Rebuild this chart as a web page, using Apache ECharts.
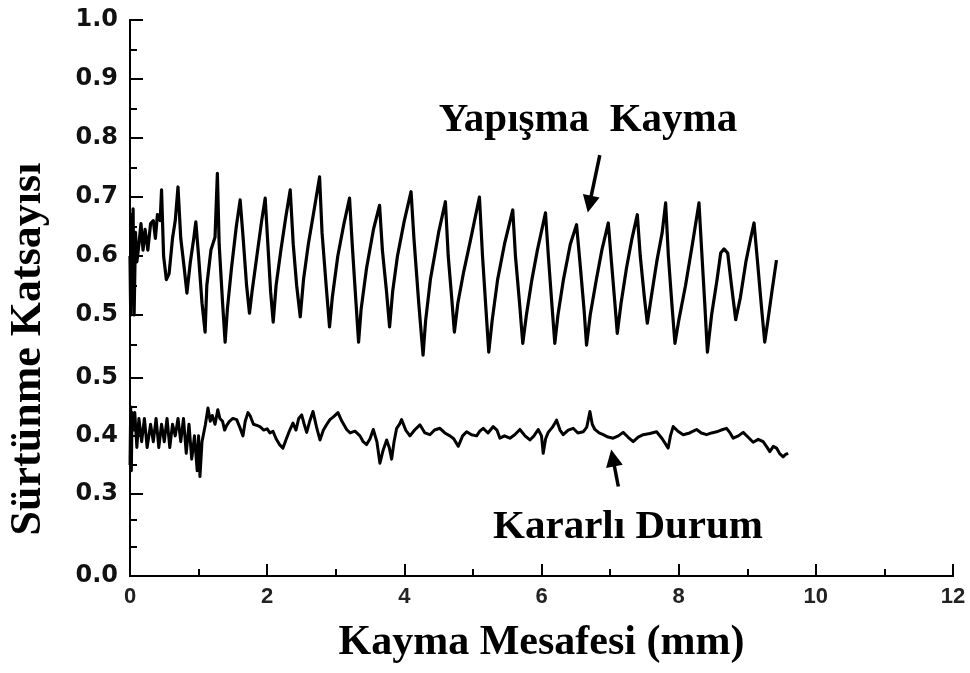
<!DOCTYPE html>
<html>
<head>
<meta charset="utf-8">
<script src="https://cdn.jsdelivr.net/npm/echarts@6/dist/echarts.min.js"></script>
<style>
  html, body { margin: 0; padding: 0; background: #fff; }
  #chart { width: 970px; height: 673px; }
</style>
</head>
<body>
<div id="chart"></div>
<script>
// Sliding distance (mm) and friction coefficient, stick-slip trace
const slipX = [
  0.00, 0.01, 0.02, 0.03, 0.045, 0.06, 0.08, 0.10, 0.13, 0.16, 0.19, 0.22, 0.26, 0.30, 0.34, 0.37, 0.40, 0.44,
  0.46, 0.49, 0.53, 0.57, 0.62, 0.66, 0.70, 0.74, 0.79, 0.83, 0.88, 0.93, 0.96, 1.00, 1.05, 1.095,
  1.12, 1.18, 1.24, 1.274, 1.30, 1.35, 1.387, 1.42, 1.48, 1.55, 1.606, 1.65, 1.70, 1.742,
  1.78, 1.85, 1.92, 1.971, 2.01, 2.05, 2.088, 2.13, 2.20, 2.27, 2.336, 2.38, 2.43, 2.482,
  2.53, 2.60, 2.68, 2.764, 2.80, 2.86, 2.909, 2.95, 3.03, 3.12, 3.201, 3.24, 3.29, 3.333,
  3.37, 3.45, 3.55, 3.639, 3.68, 3.74, 3.785, 3.83, 3.90, 4.00, 4.098, 4.14, 4.21, 4.273,
  4.31, 4.38, 4.50, 4.599, 4.64, 4.69, 4.73, 4.78, 4.86, 4.97, 5.095, 5.14, 5.19, 5.231,
  5.28, 5.36, 5.46, 5.581, 5.62, 5.68, 5.727, 5.78, 5.86, 5.94, 6.058, 6.10, 6.15, 6.194,
  6.24, 6.32, 6.42, 6.511, 6.56, 6.62, 6.657, 6.71, 6.80, 6.88, 6.974, 7.02, 7.07, 7.105,
  7.16, 7.24, 7.32, 7.397, 7.44, 7.50, 7.543, 7.60, 7.68, 7.76, 7.81, 7.85, 7.90, 7.946,
  8.00, 8.10, 8.20, 8.296, 8.34, 8.38, 8.419, 8.48, 8.56, 8.613, 8.66, 8.715, 8.77, 8.832,
  8.90, 8.98, 9.05, 9.099, 9.15, 9.21, 9.255, 9.30, 9.36, 9.426
];
const slipY = [
  0.60, 0.50, 0.67, 0.52, 0.68, 0.50, 0.64, 0.59, 0.62, 0.655, 0.61, 0.645, 0.61, 0.655, 0.66, 0.63, 0.67, 0.66,
  0.712, 0.60, 0.56, 0.57, 0.63, 0.66, 0.717, 0.63, 0.58, 0.537, 0.59, 0.63, 0.658, 0.60, 0.52, 0.471,
  0.55, 0.61, 0.632, 0.74, 0.62, 0.52, 0.454, 0.51, 0.58, 0.65, 0.695, 0.63, 0.55, 0.503,
  0.54, 0.60, 0.66, 0.698, 0.62, 0.54, 0.488, 0.55, 0.61, 0.665, 0.712, 0.62, 0.55, 0.497,
  0.56, 0.62, 0.675, 0.734, 0.64, 0.55, 0.48, 0.53, 0.60, 0.655, 0.698, 0.62, 0.53, 0.454,
  0.51, 0.58, 0.645, 0.686, 0.61, 0.54, 0.48, 0.54, 0.60, 0.66, 0.709, 0.63, 0.52, 0.432,
  0.49, 0.56, 0.64, 0.692, 0.60, 0.53, 0.471, 0.52, 0.57, 0.63, 0.70, 0.60, 0.51, 0.437,
  0.49, 0.56, 0.62, 0.678, 0.60, 0.52, 0.452, 0.50, 0.56, 0.61, 0.673, 0.60, 0.52, 0.452,
  0.50, 0.56, 0.62, 0.653, 0.59, 0.51, 0.449, 0.50, 0.56, 0.61, 0.656, 0.59, 0.52, 0.469,
  0.52, 0.58, 0.63, 0.67, 0.60, 0.53, 0.486, 0.53, 0.59, 0.64, 0.69, 0.60, 0.52, 0.452,
  0.49, 0.55, 0.62, 0.69, 0.60, 0.52, 0.437, 0.50, 0.56, 0.605, 0.612, 0.605, 0.55, 0.492,
  0.53, 0.59, 0.63, 0.656, 0.59, 0.51, 0.454, 0.49, 0.54, 0.593
];

// Steady-state trace
const steadyX = [
  0.00, 0.01, 0.02, 0.03, 0.05, 0.07, 0.10, 0.13, 0.17, 0.21, 0.25, 0.30, 0.34, 0.38, 0.42, 0.46,
  0.50, 0.54, 0.58, 0.62, 0.66, 0.70, 0.74, 0.78, 0.82, 0.86, 0.90, 0.94, 0.98, 1.00, 1.02, 1.05,
  1.10, 1.137, 1.17, 1.20, 1.24, 1.28, 1.31, 1.35, 1.38, 1.41, 1.45, 1.50, 1.555, 1.60, 1.647,
  1.68, 1.72, 1.75, 1.80, 1.85, 1.895, 1.95, 2.00, 2.04, 2.085, 2.13, 2.18, 2.23, 2.28, 2.33,
  2.376, 2.42, 2.46, 2.503, 2.54, 2.576, 2.62, 2.668, 2.72, 2.77, 2.82, 2.87, 2.915, 2.97,
  3.032, 3.09, 3.159, 3.21, 3.28, 3.353, 3.40, 3.45, 3.50, 3.547, 3.60, 3.644, 3.69, 3.742,
  3.78, 3.815, 3.85, 3.888, 3.93, 3.96, 4.02, 4.082, 4.15, 4.227, 4.30, 4.373, 4.44, 4.519,
  4.59, 4.665, 4.72, 4.786, 4.85, 4.908, 4.98, 5.054, 5.10, 5.15, 5.22, 5.296, 5.35, 5.394,
  5.46, 5.539, 5.61, 5.685, 5.76, 5.831, 5.89, 5.952, 6.00, 6.025, 6.06, 6.098, 6.16, 6.22,
  6.27, 6.316, 6.39, 6.462, 6.53, 6.608, 6.66, 6.706, 6.74, 6.778, 6.84, 6.90, 6.97, 7.045,
  7.12, 7.191, 7.26, 7.337, 7.41, 7.483, 7.58, 7.678, 7.76, 7.847, 7.88, 7.92, 7.99, 8.066,
  8.16, 8.261, 8.33, 8.407, 8.48, 8.553, 8.62, 8.698, 8.75, 8.795, 8.87, 8.941, 9.01, 9.086,
  9.16, 9.232, 9.28, 9.329, 9.38, 9.427, 9.47, 9.523, 9.56, 9.596
];
const steadyY = [
  0.35, 0.45, 0.34, 0.44, 0.41, 0.44, 0.38, 0.43, 0.39, 0.43, 0.38, 0.42, 0.39, 0.43, 0.38, 0.42,
  0.39, 0.43, 0.38, 0.42, 0.40, 0.43, 0.39, 0.43, 0.37, 0.42, 0.36, 0.40, 0.34, 0.40, 0.33, 0.39,
  0.42, 0.448, 0.425, 0.435, 0.42, 0.445, 0.43, 0.425, 0.41, 0.418, 0.425, 0.43, 0.428, 0.415, 0.40,
  0.425, 0.44, 0.435, 0.42, 0.418, 0.416, 0.41, 0.412, 0.405, 0.408, 0.395, 0.385, 0.379, 0.395, 0.41,
  0.422, 0.41, 0.43, 0.436, 0.42, 0.406, 0.425, 0.442, 0.415, 0.393, 0.41, 0.42, 0.428, 0.433,
  0.44, 0.425, 0.411, 0.405, 0.408, 0.40, 0.39, 0.385, 0.395, 0.411, 0.39, 0.353, 0.375, 0.393,
  0.38, 0.36, 0.39, 0.413, 0.42, 0.428, 0.41, 0.40, 0.41, 0.419, 0.405, 0.402, 0.41, 0.413,
  0.405, 0.40, 0.395, 0.382, 0.40, 0.407, 0.402, 0.40, 0.408, 0.413, 0.405, 0.416, 0.41, 0.396,
  0.40, 0.396, 0.402, 0.411, 0.40, 0.393, 0.40, 0.411, 0.40, 0.37, 0.395, 0.406, 0.415, 0.427,
  0.41, 0.402, 0.41, 0.413, 0.405, 0.407, 0.415, 0.442, 0.42, 0.411, 0.405, 0.402, 0.398, 0.396,
  0.40, 0.406, 0.398, 0.39, 0.398, 0.402, 0.404, 0.407, 0.395, 0.379, 0.40, 0.416, 0.408, 0.402,
  0.405, 0.411, 0.405, 0.402, 0.405, 0.407, 0.41, 0.413, 0.405, 0.396, 0.40, 0.406, 0.398, 0.389,
  0.394, 0.39, 0.382, 0.373, 0.382, 0.379, 0.37, 0.364, 0.368, 0.37
];

// Axis ticks
const xTicks = [0, 2, 4, 6, 8, 10, 12];
const yUpperMajor = [0.5, 0.6, 0.7, 0.8, 0.9, 1.0];
const yUpperMinor = [0.45, 0.55, 0.65, 0.75, 0.85, 0.95];
const yMiddleMajor = [0.3, 0.4, 0.5];
const yMiddleMinor = [0.255, 0.35, 0.45];
const yLowerMajor = [0.0];
const yLowerMinor = [0.05];

const INK = '#000';
const serif = '"Liberation Serif", "Times New Roman", serif';
const sans = '"Liberation Sans", Arial, sans-serif';

const pair = (xs, ys) => xs.map((x, i) => [x, ys[i]]);

function yPair(gridIndex, min, max, majors, minors) {
  return [
    {
      type: 'value', gridIndex, min, max, position: 'left',
      axisLine: { show: true, lineStyle: { color: INK, width: 2 } },
      axisTick: { show: true, inside: true, length: 13, customValues: majors, lineStyle: { color: INK, width: 2 } },
      axisLabel: {
        show: true, customValues: majors, margin: 12,
        formatter: v => Number(v).toFixed(1),
        color: '#111', fontFamily: '"DejaVu Sans", sans-serif', fontWeight: 'bold', fontSize: 24,
        showMinLabel: true, showMaxLabel: true
      },
      splitLine: { show: false }
    },
    {
      type: 'value', gridIndex, min, max, position: 'left',
      axisLine: { show: false },
      axisTick: { show: true, inside: true, length: 7, customValues: minors, lineStyle: { color: INK, width: 2 } },
      axisLabel: { show: false },
      splitLine: { show: false }
    }
  ];
}

const hiddenX = gridIndex => ({ type: 'value', gridIndex, min: 0, max: 12, show: false });

// Annotation arrow: plain tail, filled triangular head
const arrowLine = (from, to) => ({
  silent: true, symbol: ['none', 'triangle'], symbolSize: 17,
  label: { show: false },
  lineStyle: { color: INK, width: 3.5, type: 'solid' },
  itemStyle: { color: INK },
  data: [[{ coord: from }, { coord: to }]]
});

const chart = echarts.init(document.getElementById('chart'), null, { renderer: 'canvas' });

chart.setOption({
  animation: false,
  backgroundColor: '#fff',
  grid: [
    { left: 130, right: 17, top: 20, bottom: 97 },          // frame
    { left: 130, right: 17, top: 20, height: 324.5 },       // 0.45 – 1.0
    { left: 130, right: 17, top: 377.7, height: 142.5 },    // 0.255 – 0.5
    { left: 130, right: 17, top: 547, height: 29 }          // 0 – 0.05
  ],
  xAxis: [
    {
      type: 'value', gridIndex: 0, min: 0, max: 12, position: 'top',
      axisLine: { show: true, lineStyle: { color: INK, width: 2 } },
      axisTick: { show: false }, axisLabel: { show: false }, splitLine: { show: false }
    },
    hiddenX(1),
    hiddenX(2),
    {
      type: 'value', gridIndex: 3, min: 0, max: 12, interval: 2, position: 'bottom',
      axisLine: { show: true, lineStyle: { color: INK, width: 2 } },
      axisTick: { show: true, inside: true, length: 12, lineStyle: { color: INK, width: 2 } },
      minorTick: { show: true, splitNumber: 2, length: 7, lineStyle: { color: INK, width: 2 } },
      axisLabel: {
        margin: 10, color: '#222', fontFamily: sans, fontWeight: 'bold', fontSize: 22,
        customValues: xTicks, showMinLabel: true, showMaxLabel: true
      },
      splitLine: { show: false },
      name: 'Kayma Mesafesi (mm)',
      nameLocation: 'middle',
      nameGap: 46,
      nameTextStyle: { color: INK, fontFamily: serif, fontWeight: 'bold', fontSize: 42 }
    }
  ],
  yAxis: [
    {
      type: 'value', gridIndex: 0, min: 0, max: 1, position: 'right',
      axisLine: { show: true, lineStyle: { color: INK, width: 2 } },
      axisTick: { show: false }, axisLabel: { show: false }, splitLine: { show: false }
    },
    ...yPair(1, 0.45, 1.0, yUpperMajor, yUpperMinor),
    ...yPair(2, 0.255, 0.5, yMiddleMajor, yMiddleMinor),
    ...yPair(3, 0, 0.05, yLowerMajor, yLowerMinor)
  ],
  series: [
    {
      name: 'Yapışma Kayma',
      type: 'line', xAxisIndex: 1, yAxisIndex: 1,
      data: pair(slipX, slipY),
      symbol: 'none', clip: false,
      lineStyle: { color: INK, width: 3.2, join: 'round' },
      markLine: arrowLine([6.85, 0.771], [6.70, 0.688])
    },
    {
      name: 'Kararlı Durum',
      type: 'line', xAxisIndex: 2, yAxisIndex: 3,
      data: pair(steadyX, steadyY),
      symbol: 'none', clip: false,
      lineStyle: { color: INK, width: 3, join: 'round' },
      markLine: arrowLine([7.12, 0.313], [7.04, 0.362])
    }
  ],
  graphic: [
    {
      type: 'text', x: 29, y: 349, rotation: Math.PI / 2,
      style: {
        text: 'Sürtünme Katsayısı', fill: INK,
        font: 'bold 44px ' + serif, align: 'center', verticalAlign: 'middle'
      }
    },
    {
      type: 'text', x: 588, y: 120,
      style: {
        text: 'Yapışma  Kayma', fill: INK,
        font: 'bold 41px ' + serif, align: 'center', verticalAlign: 'middle'
      }
    },
    {
      type: 'text', x: 628, y: 527,
      style: {
        text: 'Kararlı Durum', fill: INK,
        font: 'bold 41px ' + serif, align: 'center', verticalAlign: 'middle'
      }
    }
  ]
});
</script>
</body>
</html>
